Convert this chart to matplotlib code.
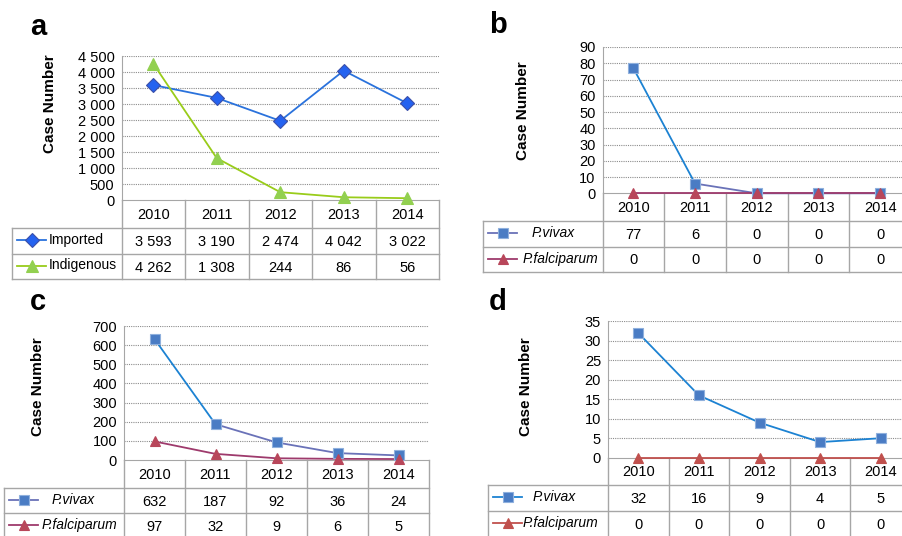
import matplotlib
matplotlib.use("Agg")
from matplotlib import pyplot as plt

plt.rcParams['font.family'] = ['Liberation Sans', 'DejaVu Sans']

# DATA
years = ['2010', '2011', '2012', '2013', '2014']

imported = [3593, 3190, 2474, 4042, 3022]
indigenous = [4262, 1308, 244, 86, 56]

b_vivax = [77, 6, 0, 0, 0]
b_falciparum = [0, 0, 0, 0, 0]

c_vivax = [632, 187, 92, 36, 24]
c_falciparum = [97, 32, 9, 6, 5]

d_vivax = [32, 16, 9, 4, 5]
d_falciparum = [0, 0, 0, 0, 0]

W, H = 902, 536
GRID = '#8c8c8c'
BORDER = '#a6a6a6'


def fmt_num(v):
    return '{:,}'.format(v).replace(',', ' ')


def panel(over, box, rows, xleft, ymax, ystep, series, letter, letter_xy, ylab_xy):
    # box = (x0, x1, ytop, ybot) in pixels
    x0, x1, ytop, ybot = box
    ax = fig.add_axes([x0 / W, 1 - ybot / H, (x1 - x0) / W, (ybot - ytop) / H])
    ax.patch.set_alpha(0)
    ax.set_xlim(-0.5, 4.5)
    ax.set_ylim(0, ymax)
    ticks = list(range(0, ymax + 1, ystep))
    ax.set_yticks(ticks)
    ax.set_yticklabels([fmt_num(t) for t in ticks], fontsize=10.5)
    ax.set_xticks([])
    ax.tick_params(axis='y', length=0, pad=5)
    for t in ticks[1:]:
        ax.axhline(t, color=GRID, lw=0.8, ls=(0, (1, 1)), zorder=1)
    for s in ['top', 'right']:
        ax.spines[s].set_visible(False)
    ax.spines['left'].set_color(BORDER)
    ax.spines['bottom'].set_color(BORDER)

    xs = range(len(years))
    for name, vals, segs, marker, mfc, mec, ms, italic, txt_off in series:
        for (a, b, col) in segs:
            ax.plot(list(xs)[a:b + 1], vals[a:b + 1], color=col, lw=1.3, zorder=3, clip_on=False)
        ax.plot(xs, vals, ls='none', marker=marker, ms=ms, mfc=mfc, mec=mec, mew=0.8,
                zorder=4, clip_on=False)

    # table
    cw = (x1 - x0) / len(years)
    r0, r1, r2 = rows
    over.plot([x0, x0], [ybot, r2], color=BORDER, lw=1)
    for k in range(1, len(years) + 1):
        xx = x0 + k * cw
        over.plot([xx, xx], [ybot, r2], color=BORDER, lw=1)
    for yy in (r0, r1, r2):
        over.plot([xleft, x1], [yy, yy], color=BORDER, lw=1)
    over.plot([xleft, xleft], [r0, r2], color=BORDER, lw=1)
    for i, y in enumerate(years):
        over.text(x0 + (i + 0.5) * cw, (ybot + r0) / 2 + 1, y, ha='center', va='center', fontsize=10.5)
    for j, (name, vals, segs, marker, mfc, mec, ms, italic, txt_off) in enumerate(series):
        ya, yb = (r0, r1) if j == 0 else (r1, r2)
        yc = (ya + yb) / 2
        for i, v in enumerate(vals):
            over.text(x0 + (i + 0.5) * cw, yc + 1, fmt_num(v), ha='center', va='center', fontsize=10.5)
        lcol = segs[-1][2]
        over.plot([xleft + 5, xleft + 34], [yc - 1, yc - 1], color=lcol, lw=1.3)
        over.plot([xleft + 20], [yc - 1], ls='none', marker=marker, ms=ms, mfc=mfc, mec=mec, mew=0.8)
        over.text(xleft + txt_off, yc - 1, name, ha='left', va='center', fontsize=10,
                  style='italic' if italic else 'normal')

    over.text(letter_xy[0], letter_xy[1], letter, ha='left', va='baseline', fontsize=21, fontweight='bold')
    over.text(ylab_xy[0], ylab_xy[1], 'Case Number', rotation=90, ha='center', va='center',
              fontsize=11, fontweight='bold')
    return ax


fig = plt.figure(figsize=(W / 100, H / 100), dpi=100)
over = fig.add_axes([0, 0, 1, 1])
over.set_xlim(0, W)
over.set_ylim(H, 0)
over.axis('off')

VIV_BLUE = '#1c82d2'
VIV_SLATE = '#6a72b8'
SQ_FILL = '#4a7cc4'
SQ_EDGE = '#8fb0dd'
FAL_MAG = '#9e3a6c'
FAL_MK = '#b8465a'
FAL_RED = '#c0504d'

panel(over, (121.5, 439, 56, 200), (228, 254, 279), 12, 4500, 500,
      [('Imported', imported, [(0, 4, '#2a72dc')], 'D', '#2462f0', '#3b4fa8', 7.5, False, 37),
       ('Indigenous', indigenous, [(0, 4, '#99cc1a')], '^', '#92d050', '#92d050', 8, False, 37)],
      'a', (30, 35), (50, 104))

panel(over, (602.5, 911, 47, 193.3), (221, 247, 272), 483, 90, 10,
      [('P.vivax', b_vivax, [(0, 1, VIV_BLUE), (1, 4, VIV_SLATE)], 's', SQ_FILL, SQ_EDGE, 7, True, 49),
       ('P.falciparum', b_falciparum, [(0, 4, FAL_MAG)], '^', FAL_MK, FAL_MK, 7, True, 40)],
      'b', (489, 33), (523, 111))

panel(over, (124, 429, 326, 460), (487.7, 513.3, 539), 4, 700, 100,
      [('P.vivax', c_vivax, [(0, 1, VIV_BLUE), (1, 4, VIV_SLATE)], 's', SQ_FILL, SQ_EDGE, 7, True, 48),
       ('P.falciparum', c_falciparum, [(0, 4, FAL_MAG)], '^', FAL_MK, FAL_MK, 7, True, 38)],
      'c', (30, 310), (38, 387))

panel(over, (608, 911, 321.3, 457.7), (485, 511, 537), 488, 35, 5,
      [('P.vivax', d_vivax, [(0, 4, VIV_BLUE)], 's', SQ_FILL, SQ_EDGE, 7, True, 45),
       ('P.falciparum', d_falciparum, [(0, 4, FAL_RED)], '^', FAL_RED, FAL_RED, 7, True, 35)],
      'd', (489, 310), (526, 387))

fig.savefig('out.png', dpi=100)
